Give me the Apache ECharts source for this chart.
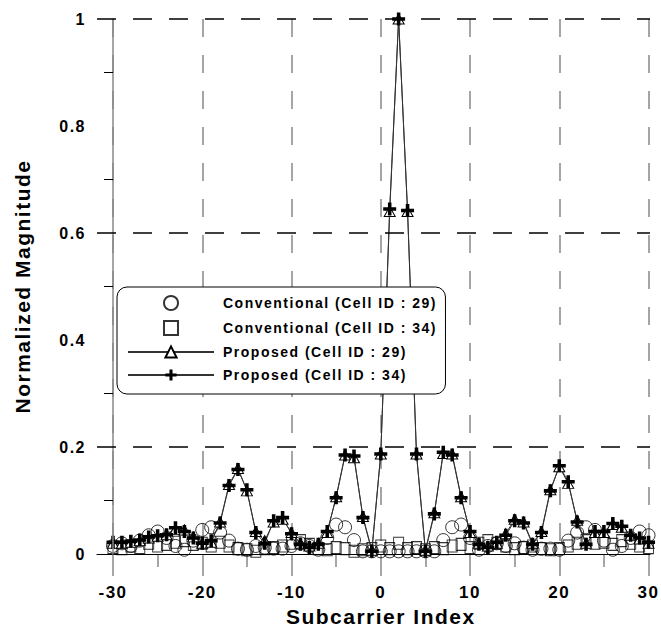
<!DOCTYPE html>
<html>
<head>
<meta charset="utf-8">
<script src="https://cdn.jsdelivr.net/npm/echarts@6/dist/echarts.min.js"></script>
<style>
  html, body { margin: 0; padding: 0; background: #fff; }
  #main { width: 661px; height: 632px; }
  #main text { letter-spacing: 1.5px; }
</style>
</head>
<body>
<div id="main"></div>
<script>
// Subcarrier indices -30..30
const subcarriers = [-30,-29,-28,-27,-26,-25,-24,-23,-22,-21,-20,-19,-18,-17,-16,-15,-14,-13,-12,-11,-10,-9,-8,-7,-6,-5,-4,-3,-2,-1,0,1,2,3,4,5,6,7,8,9,10,11,12,13,14,15,16,17,18,19,20,21,22,23,24,25,26,27,28,29,30];

const seriesNames = [
  'Conventional (Cell ID : 29)',
  'Conventional (Cell ID : 34)',
  'Proposed (Cell ID : 29)',
  'Proposed (Cell ID : 34)'
];

const conv29 = [0.015,0.02,0.015,0.025,0.035,0.042,0.03,0.015,0.008,0.025,0.045,0.05,0.04,0.025,0.01,0.008,0.015,0.012,0.01,0.01,0.015,0.02,0.015,0.008,0.03,0.055,0.05,0.026,0.005,0.005,0.005,0.005,0.005,0.005,0.005,0.005,0.005,0.026,0.05,0.055,0.03,0.008,0.015,0.02,0.015,0.02,0.012,0.008,0.01,0.01,0.008,0.025,0.04,0.05,0.045,0.025,0.008,0.015,0.03,0.042,0.035];

const conv34 = [0.012,0.01,0.015,0.012,0.02,0.015,0.018,0.022,0.025,0.018,0.02,0.015,0.022,0.015,0.01,0.008,0.005,0.01,0.012,0.015,0.02,0.025,0.018,0.01,0.008,0.012,0.01,0.005,0.008,0.01,0.015,0.01,0.02,0.01,0.012,0.008,0.012,0.01,0.015,0.018,0.012,0.02,0.025,0.02,0.015,0.01,0.012,0.015,0.01,0.008,0.01,0.015,0.02,0.025,0.02,0.022,0.018,0.025,0.02,0.015,0.012];

const prop29 = [0.02,0.02,0.022,0.025,0.03,0.033,0.036,0.046,0.045,0.032,0.02,0.022,0.06,0.13,0.16,0.118,0.042,0.025,0.06,0.065,0.04,0.02,0.015,0.02,0.04,0.107,0.185,0.18,0.07,0.007,0.187,0.64,1.0,0.64,0.187,0.007,0.077,0.188,0.187,0.107,0.04,0.02,0.015,0.02,0.038,0.065,0.06,0.02,0.042,0.12,0.163,0.132,0.063,0.02,0.04,0.04,0.055,0.05,0.035,0.028,0.02];

const prop34 = [0.022,0.022,0.024,0.026,0.032,0.034,0.036,0.049,0.042,0.03,0.02,0.025,0.058,0.128,0.158,0.12,0.04,0.02,0.062,0.068,0.038,0.018,0.012,0.018,0.042,0.105,0.185,0.183,0.068,0.005,0.187,0.645,1.0,0.642,0.187,0.005,0.075,0.19,0.185,0.105,0.042,0.018,0.012,0.022,0.035,0.062,0.058,0.018,0.04,0.118,0.165,0.135,0.06,0.018,0.042,0.042,0.057,0.052,0.035,0.03,0.022];

const xTicks = { min: -30, max: 30, interval: 10 };
const yTicks = { min: 0, max: 1, interval: 0.2 };
const dashedLevels = [0.2, 0.6, 1.0];

const FONT = 'Liberation Sans, Arial, sans-serif';
const plusPath = 'path://M4,0 L7,0 L7,4 L11,4 L11,7 L7,7 L7,11 L4,11 L4,7 L0,7 L0,4 L4,4 Z';
const squarePath = 'path://M0,0 L10,0 L10,10 L0,10 Z';

function pairs(vals) { return subcarriers.map((x, i) => [x, vals[i]]); }

const chart = echarts.init(document.getElementById('main'), null, { renderer: 'svg' });

chart.setOption({
  animation: false,
  backgroundColor: '#fff',
  grid: [
    { left: 113, right: 11, top: 19, bottom: 78 },
    { left: 97, right: 11, top: 19, bottom: 78 }
  ],
  xAxis: [
    {
      type: 'value', gridIndex: 0, z: 1,
      min: xTicks.min, max: xTicks.max, interval: xTicks.interval,
      axisLine: { show: true, onZero: false, lineStyle: { color: '#000', width: 1.2 } },
      axisTick: { show: true, inside: false, length: 22, lineStyle: { color: '#888', width: 1.5 } },
      minorTick: { show: true, splitNumber: 2, length: 13, lineStyle: { color: '#888', width: 1.5 } },
      splitLine: { show: true, lineStyle: { color: '#888', width: 1.5, type: [18, 18] } },
      axisLabel: { margin: 30, fontSize: 17, fontWeight: 'bold', color: '#000', fontFamily: FONT },
      name: 'Subcarrier Index', nameLocation: 'middle', nameGap: 50,
      nameTextStyle: { fontSize: 21, fontWeight: 'bold', color: '#000', fontFamily: FONT }
    },
    {
      type: 'value', gridIndex: 1, min: 0, max: 1, z: 2,
      axisLine: { show: true, onZero: false, lineStyle: { color: '#000', width: 1.2 } },
      axisTick: { show: false }, axisLabel: { show: false }, splitLine: { show: false }
    }
  ],
  yAxis: [
    {
      type: 'value', gridIndex: 0, z: 4,
      min: yTicks.min, max: yTicks.max, interval: yTicks.interval,
      axisLine: { show: true, onZero: false, lineStyle: { color: '#888', width: 1.5 } },
      axisTick: { show: false },
      minorTick: { show: true, splitNumber: 2, length: 9, lineStyle: { color: '#000', width: 1 } },
      splitLine: { show: false },
      axisLabel: { margin: 27, fontSize: 16, fontWeight: 'bold', color: '#000', fontFamily: FONT },
      name: 'Normalized Magnitude', nameLocation: 'middle', nameGap: 80,
      nameTextStyle: { fontSize: 21, fontWeight: 'bold', color: '#000', fontFamily: FONT }
    },
    {
      type: 'value', gridIndex: 1, min: yTicks.min, max: yTicks.max, show: false,
      axisLine: { onZero: false }
    }
  ],
  legend: {
    orient: 'vertical', left: 117, top: 287,
    itemWidth: 86, itemHeight: 14, itemGap: 9,
    padding: [8, 49, 12, 10],
    backgroundColor: '#fff', borderColor: '#000', borderWidth: 1, borderRadius: 10,
    textStyle: { fontFamily: FONT, fontSize: 14, fontWeight: 'bold', color: '#000', padding: [0, 0, 0, 4] },
    data: seriesNames
  },
  series: [
    {
      name: 'gridlines', type: 'line', xAxisIndex: 1, yAxisIndex: 1, data: [], silent: true,
      markLine: {
        silent: true, symbol: ['none', 'none'], label: { show: false },
        lineStyle: { color: '#000', width: 1.5, type: [19, 17] },
        data: dashedLevels.map(v => ({ yAxis: v }))
      }
    },
    {
      name: seriesNames[0], type: 'scatter', xAxisIndex: 0, yAxisIndex: 0,
      data: pairs(conv29), symbol: 'circle', symbolSize: 13,
      itemStyle: { color: 'rgba(255,255,255,0)', borderColor: '#000', borderWidth: 1 }
    },
    {
      name: seriesNames[1], type: 'scatter', xAxisIndex: 0, yAxisIndex: 0,
      data: pairs(conv34), symbol: squarePath, symbolSize: [10, 12],
      itemStyle: { color: 'rgba(255,255,255,0)', borderColor: '#000', borderWidth: 1 }
    },
    {
      name: seriesNames[2], type: 'line', xAxisIndex: 0, yAxisIndex: 0,
      data: pairs(prop29), symbol: 'triangle', symbolSize: [11, 10], showSymbol: true,
      lineStyle: { color: '#333', width: 1 },
      itemStyle: { color: '#fff', borderColor: '#000', borderWidth: 1 }
    },
    {
      name: seriesNames[3], type: 'line', xAxisIndex: 0, yAxisIndex: 0,
      data: pairs(prop34), symbol: plusPath, symbolSize: 13, showSymbol: true,
      lineStyle: { color: '#333', width: 1 },
      itemStyle: { color: '#000', borderWidth: 0 }
    }
  ]
});
</script>
</body>
</html>
